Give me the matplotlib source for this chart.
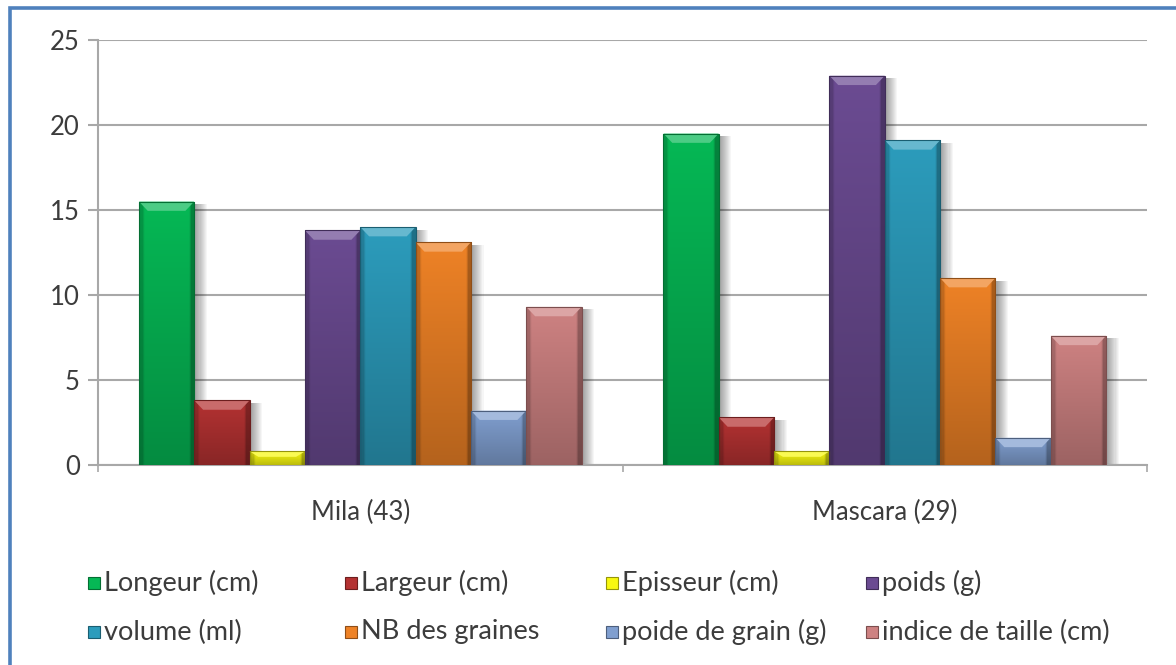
import numpy as np
import matplotlib
matplotlib.use("Agg")
import matplotlib.pyplot as plt
from matplotlib.colors import to_rgb
from matplotlib.patches import Rectangle, Polygon

# ---- data -------------------------------------------------------------
categories = ["Mila (43)", "Mascara (29)"]
series_names = ["Longeur (cm)", "Largeur (cm)", "Episseur (cm)", "poids (g)",
                "volume (ml)", "NB des graines", "poide de grain (g)",
                "indice de taille (cm)"]
longeur = [15.5, 19.5]
largeur = [3.8, 2.8]
episseur = [0.8, 0.8]
poids = [13.8, 22.9]
volume = [14.0, 19.1]
nb_graines = [13.1, 11.0]
poide_grain = [3.2, 1.6]
indice_taille = [9.3, 7.6]
y_ticks = [0, 5, 10, 15, 20, 25]

colors = ["#06B855", "#B43232", "#F8F810", "#6B4B92",
          "#2C9CBC", "#EE8226", "#809FD0", "#CE8282"]

values = [longeur, largeur, episseur, poids, volume, nb_graines,
          poide_grain, indice_taille]

plt.rcParams["font.family"] = ["Lato", "DejaVu Sans"]
TEXT = "#3c3c3c"
GRID = "#a8a8a8"

W, H = 1176, 665
fig = plt.figure(figsize=(W / 100, H / 100), dpi=100)
ax = fig.add_axes([98 / W, 200 / H, (1147 - 98) / W, 425 / H])

bar_w = 0.1055
x = np.arange(len(categories))


def shade(c, f):
    r = np.array(to_rgb(c))
    if f >= 1:
        return tuple(r + (1 - r) * (f - 1))
    return tuple(r * f)


def draw_bar(x0, h, c):
    x1 = x0 + bar_w
    # soft drop shadow on the right side, many thin layers so it blends
    offs = np.linspace(0.002, 0.024, 12)
    for k in offs:
        ax.add_patch(Rectangle((x0 + k, 0), bar_w, h - 0.15, facecolor="black",
                               edgecolor="none", alpha=0.035, zorder=2))
    body = Rectangle((x0, 0), bar_w, h, facecolor=c, edgecolor="none", zorder=3)
    ax.add_patch(body)
    # vertical + edge gradient
    ny, nx = 60, 24
    vy = np.linspace(0.76, 1.0, ny)[:, None]
    ex = np.ones(nx)
    ex[:2] = 0.82
    ex[-2:] = 0.72
    base = np.array(to_rgb(c))
    img = base[None, None, :] * (vy * ex[None, :])[:, :, None]
    im = ax.imshow(np.clip(img, 0, 1), extent=[x0, x1, 0, h], origin="lower",
                   aspect="auto", zorder=4, interpolation="bilinear")
    im.set_clip_path(body)
    # top bevel
    bev = min(0.55, h * 0.4)
    ins = bar_w * 0.16
    ax.add_patch(Polygon([(x0, h), (x1, h), (x1 - ins, h - bev), (x0 + ins, h - bev)],
                         closed=True, facecolor=shade(c, 1.28), edgecolor="none",
                         zorder=5))
    ax.add_patch(Rectangle((x0, 0), bar_w, h, facecolor="none",
                           edgecolor=shade(c, 0.6), linewidth=0.8, zorder=6))


for i, (vals, c) in enumerate(zip(values, colors)):
    for xi, v in zip(x, vals):
        draw_bar(xi + (i - 4) * bar_w, v, c)

ax.set_xlim(-0.5, 1.5)
ax.set_ylim(0, 25)
ax.set_yticks(y_ticks)
ax.set_yticklabels([str(t) for t in y_ticks])
ax.yaxis.grid(True, color=GRID, linewidth=1.5)
ax.set_axisbelow(True)

ax.set_xticks(x)
ax.set_xticklabels(categories)
ax.set_xticks([-0.5, 0.5, 1.5], minor=True)
ax.tick_params(axis="x", which="major", length=0, pad=25, labelsize=18.5,
               labelcolor=TEXT)
ax.tick_params(axis="x", which="minor", length=5, width=1.2, color=GRID)
ax.tick_params(axis="y", length=7.2, width=1.5, color=GRID, pad=6,
               labelsize=18.5, labelcolor=TEXT)

for s in ["top", "right"]:
    ax.spines[s].set_visible(False)
for s in ["left", "bottom"]:
    ax.spines[s].set_color(GRID)
    ax.spines[s].set_linewidth(1.5)

# legend, two rows of four equal-width columns
col_x = [88, 345, 606, 866]
row_y = [583, 632]
for k, (name, c) in enumerate(zip(series_names, colors)):
    px = col_x[k % 4]
    py = row_y[k // 4]
    fig.add_artist(Rectangle((px / W, 1 - (py + 6) / H), 12 / W, 12 / H,
                             transform=fig.transFigure, facecolor=c,
                             edgecolor=shade(c, 0.6), linewidth=0.8))
    fig.text((px + 16) / W, 1 - py / H, name, fontsize=19.5, color=TEXT,
             va="center", ha="left")

# outer frame
fig.add_artist(Rectangle((10 / W, -0.1), 1.2, 1.1 - 8 / H,
                         transform=fig.transFigure, facecolor="none",
                         edgecolor="#4F81BD", linewidth=2.6))

fig.savefig("out.png", dpi=100)
